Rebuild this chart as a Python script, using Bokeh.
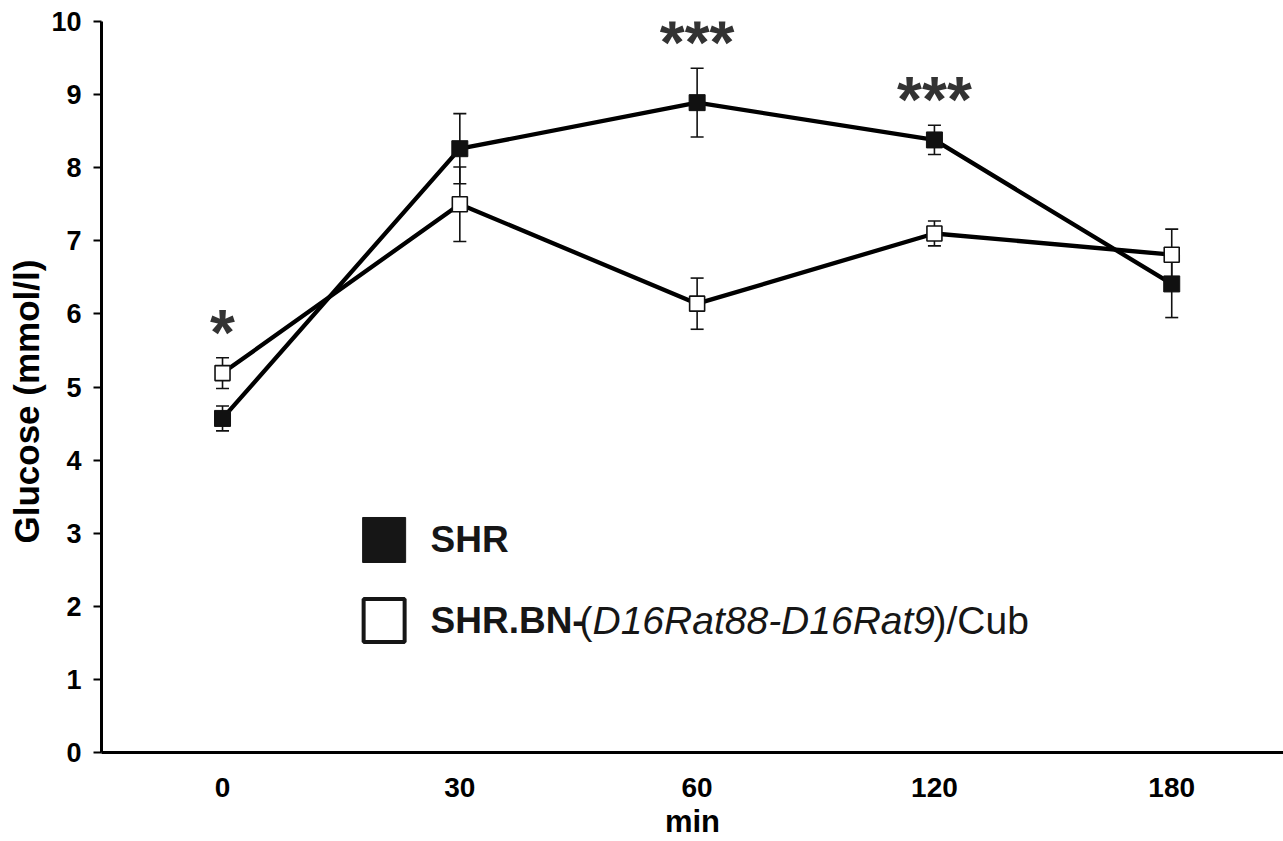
from bokeh.plotting import figure
from bokeh.models import ColumnDataSource, Whisker, TeeHead, FixedTicker, Label, Range1d
from bokeh.embed import file_html
from bokeh.resources import INLINE
from bokeh.core.properties import value

# ---- data ----
time_labels = ["0", "30", "60", "120", "180"]
shr_mean = [4.57, 8.26, 8.89, 8.38, 6.41]
shr_err = [0.17, 0.48, 0.47, 0.20, 0.46]
bn_mean = [5.19, 7.50, 6.14, 7.10, 6.81]
bn_err = [0.21, 0.51, 0.35, 0.17, 0.35]
signif = ["*", "", "***", "***", ""]
series_names = ["SHR", "SHR.BN-(D16Rat88-D16Rat9)/Cub"]

xs = list(range(len(time_labels)))
FONT = "Liberation Sans"

p = figure(width=1283, height=841, output_backend="svg", toolbar_location=None,
           x_range=Range1d(-0.51, 4.471), y_range=Range1d(0, 10),
           min_border_left=101, min_border_right=0, min_border_top=21,
           min_border_bottom=89, background_fill_color="white")
p.outline_line_color = None
p.grid.visible = False

# axes
p.xaxis.ticker = FixedTicker(ticks=xs)
p.xaxis.major_label_overrides = {i: t for i, t in zip(xs, time_labels)}
p.xaxis.major_tick_out = 0
p.xaxis.major_tick_in = 0
p.xaxis.minor_tick_out = 0
p.xaxis.minor_tick_in = 0
p.xaxis.axis_line_width = 3
p.xaxis.axis_line_color = "black"
p.xaxis.major_label_text_font = FONT
p.xaxis.major_label_text_font_style = "bold"
p.xaxis.major_label_text_font_size = "28px"
p.xaxis.major_label_text_color = "black"
p.xaxis.major_label_standoff = 25
p.xaxis.axis_label = "min"
p.xaxis.axis_label_text_font = FONT
p.xaxis.axis_label_text_font_style = "bold"
p.xaxis.axis_label_text_font_size = "31px"
p.xaxis.axis_label_text_color = "black"
p.xaxis.axis_label_standoff = 4

p.yaxis.ticker = FixedTicker(ticks=list(range(0, 11)))
p.yaxis.minor_tick_out = 0
p.yaxis.minor_tick_in = 0
p.yaxis.major_tick_out = 8
p.yaxis.major_tick_in = 0
p.yaxis.major_tick_line_width = 2
p.yaxis.axis_line_width = 3
p.yaxis.major_label_text_font = FONT
p.yaxis.major_label_text_font_style = "bold"
p.yaxis.major_label_text_font_size = "27px"
p.yaxis.major_label_text_color = "black"
p.yaxis.major_label_standoff = 12
p.yaxis.axis_label = "Glucose (mmol/l)\u00a0\u00a0\u00a0"
p.yaxis.axis_label_text_font = FONT
p.yaxis.axis_label_text_font_style = "bold"
p.yaxis.axis_label_text_font_size = "35px"
p.yaxis.axis_label_text_color = "black"
p.yaxis.axis_label_standoff = 2

# error bars
for mean, err in ((shr_mean, shr_err), (bn_mean, bn_err)):
    src = ColumnDataSource(dict(x=xs, upper=[m + e for m, e in zip(mean, err)],
                                lower=[m - e for m, e in zip(mean, err)]))
    w = Whisker(source=src, base="x", upper="upper", lower="lower", dimension="height",
                line_width=1.6, line_color="#111111",
                upper_head=TeeHead(size=13, line_width=1.6, line_color="#111111"),
                lower_head=TeeHead(size=13, line_width=1.6, line_color="#111111"))
    p.add_layout(w)

# lines
p.line(xs, shr_mean, line_width=4.3, line_color="black")
p.line(xs, bn_mean, line_width=4.3, line_color="black")

# markers
p.scatter(xs, shr_mean, marker="square", size=16, fill_color="#111111", line_color="#111111")
p.scatter(xs, bn_mean, marker="square", size=15, fill_color="white", line_color="#111111",
          line_width=1.6)

# significance stars
star_y = [max(a + b, c + d) for a, b, c, d in zip(shr_mean, shr_err, bn_mean, bn_err)]
p.text(xs, star_y, text=signif, text_font=value(FONT), text_font_style="bold",
       text_font_size="64px", text_color="#333333", text_align="center",
       text_baseline="alphabetic", y_offset=-25)

# custom legend
p.rect([0.681], [2.907], width=43, height=45, width_units="screen", height_units="screen",
       fill_color="#161616", line_color="#161616")
p.rect([0.681], [1.806], width=41, height=43, width_units="screen", height_units="screen",
       fill_color="white", line_color="#161616", line_width=4)

tx = 0.8765
p.add_layout(Label(x=tx, y=2.907, text=series_names[0], text_font=FONT, text_font_style="bold",
                   text_font_size="37px", text_baseline="middle", text_color="#161616"))
pieces = [("SHR.BN-", "bold", 37, 0), ("(", "normal", 39, 149),
          ("D16Rat88-D16Rat9", "italic", 39, 162), (")/Cub", "normal", 39, 503)]
for txt, style, size, off in pieces:
    p.add_layout(Label(x=tx, y=1.806, x_offset=off, text=txt, text_font=FONT,
                       text_font_style=style, text_font_size=f"{size}px",
                       text_baseline="middle", text_color="#161616"))

open("out.html", "w").write(file_html(p, INLINE))
